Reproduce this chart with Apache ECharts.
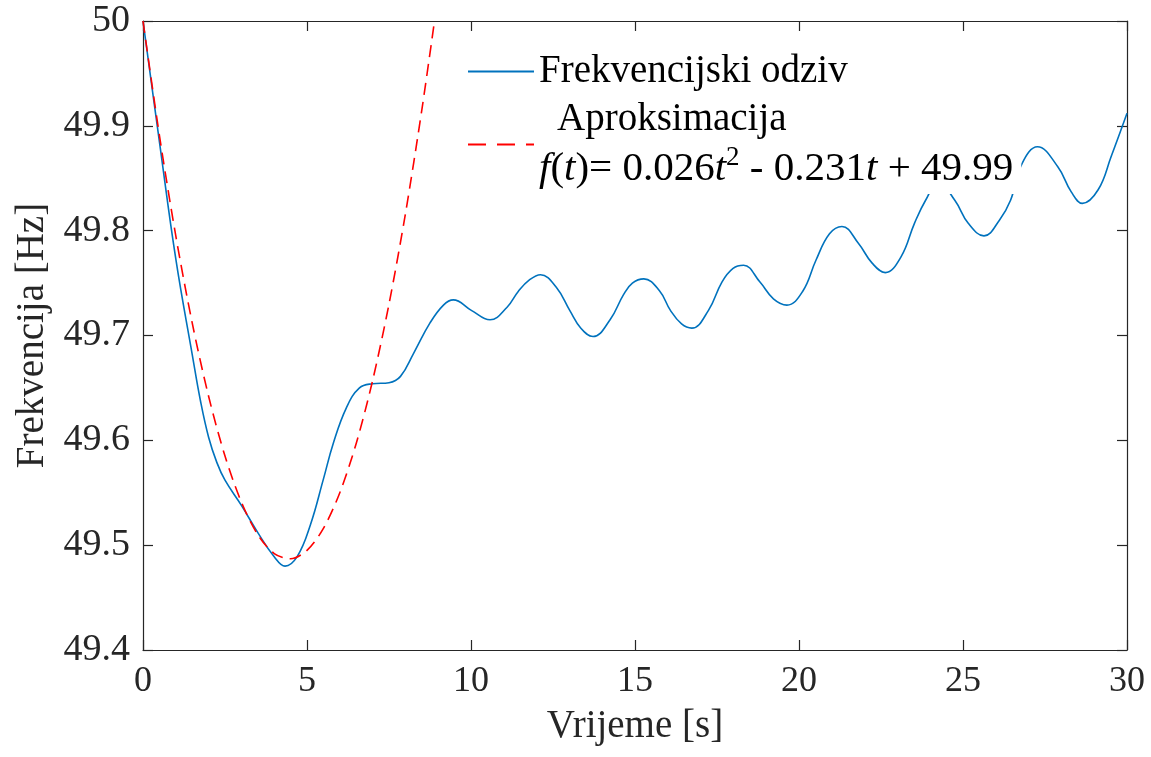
<!DOCTYPE html>
<html>
<head>
<meta charset="utf-8">
<script src="https://cdn.jsdelivr.net/npm/echarts@6/dist/echarts.min.js"></script>
<style>
html,body{margin:0;padding:0;background:#fff;}
#chart{width:1151px;height:757px;}
</style>
</head>
<body>
<div id="chart"></div>
<script>
// ---- Data ----
const xTicks = [0, 5, 10, 15, 20, 25, 30];
const yTicks = [49.4, 49.5, 49.6, 49.7, 49.8, 49.9, 50];

// Frekvencijski odziv (blue) : time [s]
const respT = [0, 0.5, 1.0, 1.5, 1.75, 2.0, 2.25, 2.5, 3.0, 3.5, 4.0, 4.33, 4.7, 5.1, 5.5, 5.8, 6.2, 6.6, 7.0, 7.5, 7.85, 8.25, 8.75, 9.16, 9.46,
  10.01, 10.58, 11.10, 11.44, 11.78, 12.12, 12.60, 13.01, 13.35, 13.72, 14.24, 14.65, 14.92, 15.27, 15.74, 16.08, 16.42, 16.73,
  17.24, 17.65, 17.99, 18.31, 18.81, 19.22, 19.63, 20.11, 20.52, 20.93, 21.31, 21.81, 22.23, 22.63,
  23.11, 23.52, 23.86, 24.25, 24.75, 25.16, 25.64, 26.11, 26.45, 26.80, 27.27, 27.89, 28.30, 28.64, 29.12, 29.52, 30];
// Frekvencijski odziv (blue) : frequency [Hz]
const respF = [50.000, 49.885, 49.773, 49.682, 49.638, 49.603, 49.579, 49.562, 49.538, 49.512, 49.489, 49.480, 49.489, 49.519, 49.563, 49.597, 49.631, 49.650, 49.654, 49.655, 49.661, 49.683, 49.712, 49.729, 49.734,
  49.724, 49.715, 49.727, 49.742, 49.753, 49.758, 49.746, 49.724, 49.707, 49.699, 49.715, 49.739, 49.750, 49.754, 49.743, 49.724, 49.711, 49.707,
  49.724, 49.751, 49.764, 49.767, 49.751, 49.735, 49.729, 49.742, 49.772, 49.797, 49.804, 49.788, 49.769, 49.760,
  49.775, 49.807, 49.829, 49.846, 49.829, 49.807, 49.795, 49.810, 49.829, 49.864, 49.880, 49.861, 49.837, 49.826, 49.839, 49.871, 49.912];

// Aproksimacija (red dashed) : time [s]
const fitT = [0, 0.5, 1, 1.5, 2, 2.5, 3, 3.5, 4, 4.5, 5, 5.5, 6, 6.5, 7, 7.5, 8, 8.5, 8.9];
// Aproksimacija (red dashed) : frequency [Hz]
const fitF = [50.000, 49.891, 49.795, 49.712, 49.642, 49.585, 49.541, 49.510, 49.492, 49.487, 49.495, 49.516, 49.550, 49.597, 49.657, 49.730, 49.816, 49.915, 50.003];

const seriesNames = ['Frekvencijski odziv', 'Aproksimacija'];

// ---- Chart ----
const FONT = '"Liberation Serif", "Times New Roman", "DejaVu Serif", serif';
const AX = '#262626';
const pair = (xs, ys) => xs.map((x, i) => [x, ys[i]]);

const chart = echarts.init(document.getElementById('chart'), null, {renderer: 'canvas'});

const xBase = {
  type: 'value', min: xTicks[0], max: xTicks[xTicks.length - 1], interval: xTicks[1] - xTicks[0],
  axisLine: {show: true, onZero: false, lineStyle: {color: AX, width: 1.2}},
  axisTick: {show: true, inside: true, length: 10, lineStyle: {color: AX, width: 1.2}},
  splitLine: {show: false}
};
const yBase = {
  type: 'value', min: yTicks[0], max: yTicks[yTicks.length - 1], interval: 0.1,
  axisLine: {show: true, onZero: false, lineStyle: {color: AX, width: 1.2}},
  axisTick: {show: true, inside: true, length: 10, lineStyle: {color: AX, width: 1.2}},
  splitLine: {show: false}
};

const option = {
  backgroundColor: '#fff',
  animation: false,
  grid: {left: 143, right: 24, top: 21, bottom: 107, containLabel: false},
  xAxis: [
    Object.assign({}, xBase, {
      position: 'bottom',
      name: 'Vrijeme [s]', nameLocation: 'middle', nameGap: 57,
      nameTextStyle: {fontFamily: FONT, fontSize: 39, color: AX},
      axisLabel: {show: true, margin: 14, fontFamily: FONT, fontSize: 36, color: AX}
    }),
    Object.assign({}, xBase, {position: 'top', axisLabel: {show: false}})
  ],
  yAxis: [
    Object.assign({}, yBase, {
      position: 'left',
      name: 'Frekvencija [Hz]', nameLocation: 'middle', nameGap: 81,
      nameTextStyle: {fontFamily: FONT, fontSize: 39, color: AX},
      axisLabel: {show: true, margin: 13, fontFamily: FONT, fontSize: 38, color: AX,
        formatter: v => String(+v.toFixed(1))}
    }),
    Object.assign({}, yBase, {position: 'right', axisLabel: {show: false}})
  ],
  legend: {
    orient: 'vertical', left: 461, top: 50,
    padding: [2, 8, 4, 6], itemGap: 9,
    itemWidth: 66, itemHeight: 14,
    backgroundColor: '#fff',
    itemStyle: {opacity: 0, borderWidth: 0},
    data: [
      {name: seriesNames[0]},
      {name: seriesNames[1], lineStyle: {type: [18, 11]}}
    ],
    textStyle: {
      fontFamily: FONT, fontSize: 39, color: '#000',
      rich: {
        a: {fontFamily: FONT, fontSize: 39, color: '#000', lineHeight: 47},
        b: {fontFamily: FONT, fontSize: 39, color: '#000', lineHeight: 50, padding: [0, 0, 0, 18]},
        n: {fontFamily: FONT, fontSize: 41, color: '#000', lineHeight: 50},
        i: {fontFamily: FONT, fontSize: 41, color: '#000', lineHeight: 50, fontStyle: 'italic'},
        s: {fontFamily: FONT, fontSize: 27, color: '#000', lineHeight: 28, verticalAlign: 'top'}
      }
    },
    formatter: function (name) {
      if (name === seriesNames[0]) return '{a|' + name + '}';
      return '{b|' + name + '}\n{i|f}{n|(}{i|t}{n|)= 0.026}{i|t}{s|2}{n| - 0.231}{i|t}{n| + 49.99}';
    }
  },
  series: [
    {
      name: seriesNames[0], type: 'line', xAxisIndex: 0, yAxisIndex: 0,
      data: pair(respT, respF), smooth: 0.42, symbol: 'none', showSymbol: false,
      lineStyle: {color: '#0072BD', width: 1.6}, itemStyle: {color: '#0072BD'}, z: 3
    },
    {
      name: seriesNames[1], type: 'line', xAxisIndex: 0, yAxisIndex: 0,
      data: pair(fitT, fitF), smooth: 0.3, symbol: 'none', showSymbol: false,
      lineStyle: {color: '#FF0000', width: 1.6, type: [12, 7]}, itemStyle: {color: '#FF0000'}, z: 4
    }
  ]
};
chart.setOption(option);
</script>
</body>
</html>
